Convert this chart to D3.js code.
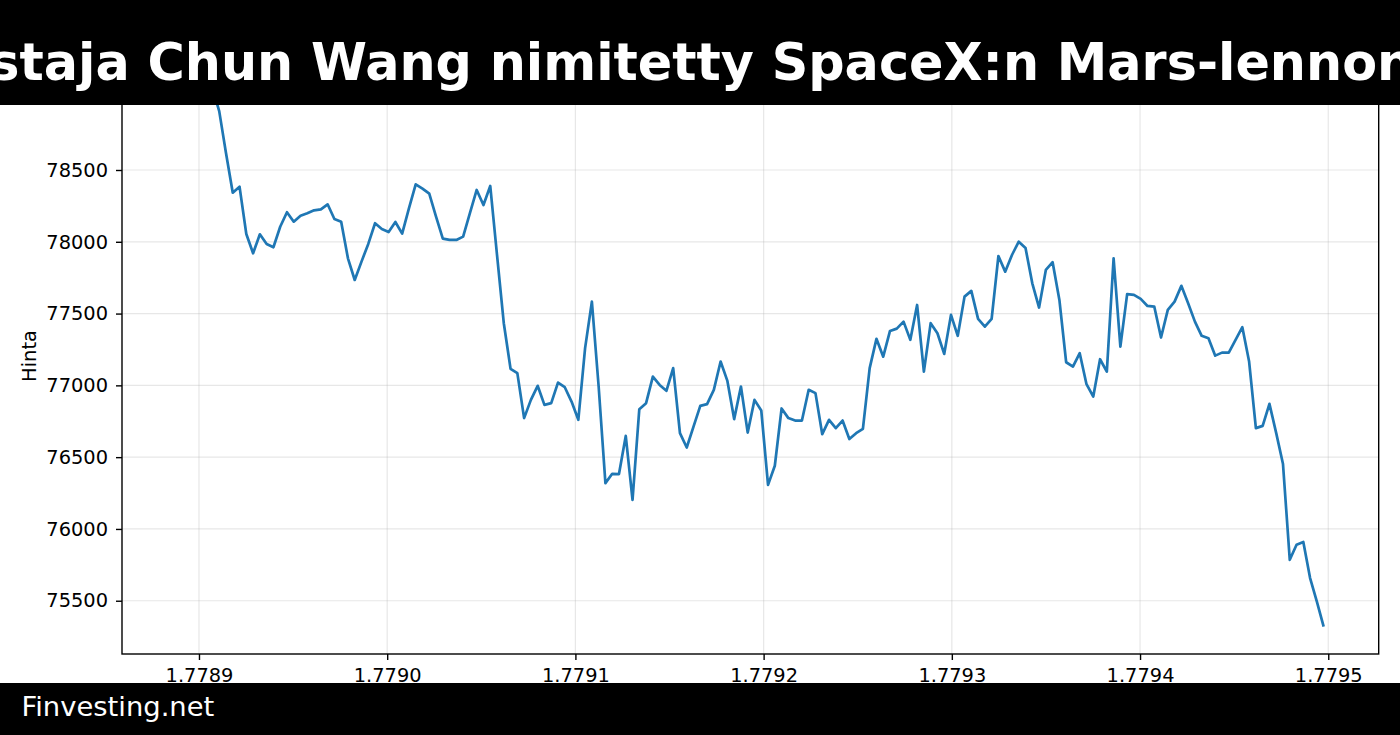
<!DOCTYPE html>
<html>
<head>
<meta charset="utf-8">
<script src="https://cdn.jsdelivr.net/npm/d3@7"></script>
<style>
  body { margin: 0; background: #fff; }
  svg { display: block; font-family: "DejaVu Sans", sans-serif; }
</style>
</head>
<body>
<div id="chart"></div>
<script>
// hourly closes, x axis is unix time / 1e9 like the original matplotlib plot
var titleText = "perustaja Chun Wang nimitetty SpaceX:n Mars-lennon komentajaksi";
var footerText = "Finvesting.net";
var yLabel = "Hinta";

var startTime = 1778907150, stepSeconds = 3600;
var prices = [79070, 78910,
  78618, 78342, 78384, 78054, 77920, 78052, 77985, 77962, 78105, 78206,
  78140, 78182, 78199, 78219, 78226, 78261, 78159, 78140, 77885, 77734,
  77862, 77985, 78129, 78089, 78068, 78138, 78057, 78233, 78400, 78370,
  78335, 78175, 78022, 78013, 78013, 78036, 78199, 78361, 78256, 78389,
  77908, 77433, 77115, 77085, 76772, 76899, 76997, 76864, 76876, 77019,
  76987, 76887, 76760, 77259, 77583, 76992, 76319, 76384, 76382, 76648,
  76203, 76834, 76876, 77061, 77003, 76962, 77120, 76667, 76567, 76713,
  76857, 76869, 76969, 77166, 77031, 76765, 76992, 76671, 76899, 76825,
  76307, 76440, 76839, 76772, 76755, 76755, 76969, 76946, 76660, 76760,
  76702, 76755, 76626, 76667, 76697, 77120, 77324, 77200, 77379, 77395,
  77444, 77317, 77560, 77096, 77433, 77363, 77219, 77491, 77345, 77618,
  77658, 77463, 77409, 77463, 77901, 77792, 77908, 78001, 77957, 77711,
  77542, 77804, 77858, 77595, 77161, 77131, 77224, 77008, 76922, 77182,
  77096, 77885, 77270, 77635, 77630, 77602, 77553, 77549, 77333, 77526,
  77583, 77693, 77572, 77444, 77345, 77328, 77207, 77228, 77228, 77317,
  77405, 77166, 76702, 76718, 76871, 76667, 76452, 75785, 75890, 75909,
  75658, 75493, 75319];

var xTicks = [1.7789, 1.7790, 1.7791, 1.7792, 1.7793, 1.7794, 1.7795];
var yTicks = [75500, 76000, 76500, 77000, 77500, 78000, 78500];
var xDomain = [1.7788591, 1.7795268];
var yDomain = [75129, 79280];

var data = prices.map(function(p, i) {
  return { x: (startTime + i * stepSeconds) / 1e9, price: p };
});

var W = 1400, H = 735;
var plot = { left: 122, right: 1378.7, top: 58, bottom: 654 };

var x = d3.scaleLinear().domain(xDomain).range([plot.left, plot.right]);
var y = d3.scaleLinear().domain(yDomain).range([plot.bottom, plot.top]);

var svg = d3.select("#chart").append("svg")
    .attr("width", W)
    .attr("height", H);

svg.append("rect").attr("width", W).attr("height", H).attr("fill", "#fff");

svg.append("defs").append("clipPath")
    .attr("id", "plotclip")
  .append("rect")
    .attr("x", plot.left)
    .attr("y", plot.top)
    .attr("width", plot.right - plot.left)
    .attr("height", plot.bottom - plot.top);

// grid
var grid = svg.append("g").attr("class", "grid");
grid.selectAll("line.gx").data(xTicks).enter().append("line")
    .attr("x1", function(d) { return x(d); })
    .attr("x2", function(d) { return x(d); })
    .attr("y1", plot.top)
    .attr("y2", plot.bottom)
    .attr("stroke", "#b0b0b0")
    .attr("stroke-opacity", 0.3)
    .attr("stroke-width", 1.2);
grid.selectAll("line.gy").data(yTicks).enter().append("line")
    .attr("x1", plot.left)
    .attr("x2", plot.right)
    .attr("y1", function(d) { return y(d); })
    .attr("y2", function(d) { return y(d); })
    .attr("stroke", "#b0b0b0")
    .attr("stroke-opacity", 0.3)
    .attr("stroke-width", 1.2);

// price line
var line = d3.line()
    .x(function(d) { return x(d.x); })
    .y(function(d) { return y(d.price); });

svg.append("path")
    .datum(data)
    .attr("clip-path", "url(#plotclip)")
    .attr("fill", "none")
    .attr("stroke", "#1f77b4")
    .attr("stroke-width", 2.7)
    .attr("stroke-linejoin", "round")
    .attr("d", line);

// axes
var xaxis = d3.axisBottom(x)
    .tickValues(xTicks)
    .tickFormat(d3.format(".4f"))
    .tickSize(6)
    .tickPadding(8);
var yaxis = d3.axisLeft(y)
    .tickValues(yTicks)
    .tickFormat(d3.format("d"))
    .tickSize(6)
    .tickPadding(8);

var gx = svg.append("g")
    .attr("transform", "translate(0," + plot.bottom + ")")
    .call(xaxis);
var gy = svg.append("g")
    .attr("transform", "translate(" + plot.left + ",0)")
    .call(yaxis);

[gx, gy].forEach(function(g) {
  g.select(".domain").remove();
  g.selectAll(".tick line").attr("stroke", "#000").attr("stroke-width", 1.4);
  g.selectAll(".tick text")
      .attr("fill", "#000")
      .style("font-family", "'DejaVu Sans', sans-serif")
      .style("font-size", "19.4px");
});

svg.append("rect")
    .attr("x", plot.left)
    .attr("y", plot.top)
    .attr("width", plot.right - plot.left)
    .attr("height", plot.bottom - plot.top)
    .attr("fill", "none")
    .attr("stroke", "#000")
    .attr("stroke-width", 1.4);

svg.append("text")
    .attr("transform", "translate(36," + ((plot.top + plot.bottom) / 2) + ") rotate(-90)")
    .attr("text-anchor", "middle")
    .style("font-size", "19.4px")
    .attr("fill", "#000")
    .text(yLabel);

// title band
svg.append("rect").attr("x", 0).attr("y", 0).attr("width", W).attr("height", 105).attr("fill", "#000");
var title = svg.append("text")
    .attr("y", 80)
    .attr("fill", "#fff")
    .style("font-size", "50.8px")
    .style("font-weight", "bold")
    .text(titleText);
var before = title.node().getSubStringLength(0, titleText.indexOf("Chun"));
title.attr("x", 147.5 - before);

// footer band
svg.append("rect").attr("x", 0).attr("y", 683).attr("width", W).attr("height", H - 683).attr("fill", "#000");
svg.append("text")
    .attr("x", 21.5)
    .attr("y", 716)
    .attr("fill", "#fff")
    .style("font-size", "27.4px")
    .text(footerText);
</script>
</body>
</html>
